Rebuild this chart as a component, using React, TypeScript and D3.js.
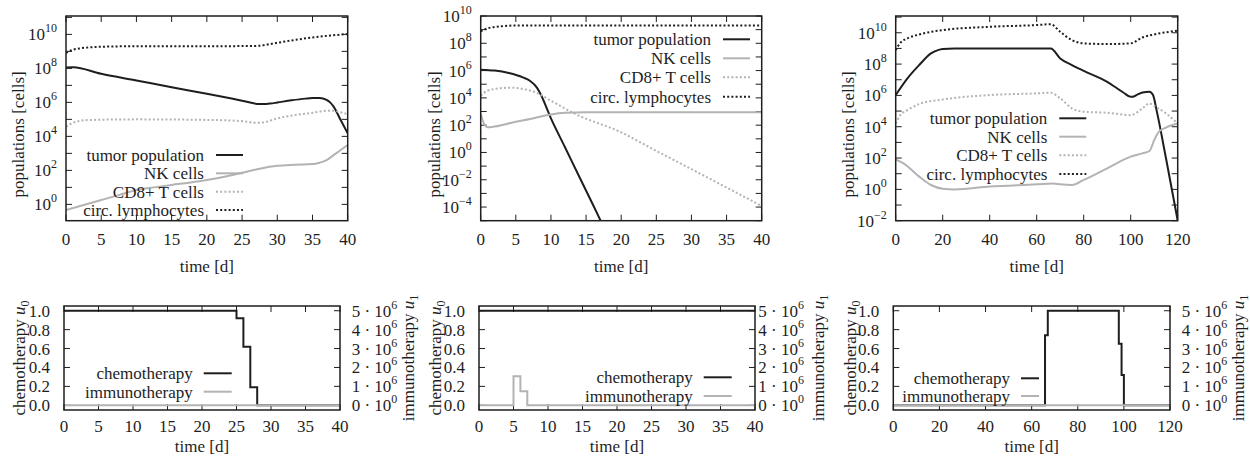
import React from "react";
import * as d3 from "d3";

type Pt = [number, number];

const FONT = "'Liberation Serif', 'DejaVu Serif', 'Times New Roman', serif";
const GRAY = "#b3b3b3";
const INK = "#1e1e1e";

// ---------- top row: populations [cells] ----------
const p1Tumor: Pt[] = [[0, 1.12e8], [1, 1.17e8], [5, 4.8e7], [10, 1.95e7], [15, 7.8e6], [20, 3.2e6], [25, 1.26e6], [27.5, 7.9e5], [28, 7.9e5], [29, 8.5e5], [30, 9.8e5], [32, 1.32e6], [34, 1.66e6], [35, 1.78e6], [36, 1.78e6], [37, 1.38e6], [37.5, 1.0e6], [38, 5.6e5], [39, 9.1e4], [40, 1.5e4]];
const p1NK: Pt[] = [[0, 0.47], [2.5, 0.93], [5, 1.8], [7.5, 3.5], [10, 6.9], [12.5, 10], [15, 14], [17.5, 19], [20, 27], [22.5, 42], [25, 72], [27.5, 126], [30, 186], [32.5, 214], [35, 234], [36, 282], [37, 398], [38, 794], [39, 1585], [40, 3090]];
const p1CD8: Pt[] = [[0, 3.7e4], [1, 6.3e4], [3, 9.1e4], [10, 1.0e5], [20, 9.3e4], [25, 7.9e4], [27, 6.3e4], [28, 6.6e4], [30, 1.15e5], [32.5, 1.78e5], [35, 2.45e5], [37, 3.2e5], [38, 3.2e5], [39, 2.6e5], [40, 2.0e5]];
const p1Circ: Pt[] = [[0, 8.3e8], [1, 1.26e9], [2, 1.5e9], [5, 1.86e9], [10, 2.0e9], [20, 2.0e9], [27, 2.1e9], [30, 3.2e9], [32.5, 4.7e9], [35, 6.6e9], [37.5, 8.5e9], [40, 1.05e10]];

const p2Tumor: Pt[] = [[0, 1.17e6], [2, 1.0e6], [4, 6.6e5], [6, 3.2e5], [7, 1.8e5], [8, 5.6e4], [8.5, 2.0e4], [10, 316], [12, 2.4], [14, 0.018], [16, 1.4e-4], [17, 1.2e-5], [18, 1e-6]];
const p2NK: Pt[] = [[0, 650], [0.5, 120], [1, 69], [2, 79], [5, 178], [7, 282], [9, 490], [10, 617], [12, 813], [15, 871], [40, 871]];
const p2CD8: Pt[] = [[0, 1.45e4], [1, 3.4e4], [3, 5.2e4], [4, 5.6e4], [6, 4.5e4], [8, 2.3e4], [10, 6.2e3], [13.5, 650], [20, 30], [25, 1.3], [30, 0.06], [35, 2.7e-3], [40, 1.2e-4]];
const p2Circ: Pt[] = [[0, 7.6e8], [1, 1.26e9], [3, 1.78e9], [5, 2.0e9], [40, 2.0e9]];

const p3Tumor: Pt[] = [[0, 1.05e6], [5, 1.23e7], [10, 8.7e7], [15, 4.8e8], [18, 7.8e8], [20, 9.1e8], [25, 1.0e9], [66, 1.0e9], [70, 2.3e8], [75, 8.7e7], [80, 3.7e7], [90, 7.4e6], [97, 1.48e6], [100, 8.1e5], [101, 8.3e5], [103, 1.17e6], [105, 1.55e6], [108, 1.7e6], [109.5, 1.05e6], [111, 1.15e5], [115, 100], [120, 0.01]];
const p3NK: Pt[] = [[0, 79], [3, 50], [10, 6.5], [15, 1.9], [20, 1.1], [25, 1.0], [40, 1.5], [60, 2.1], [67, 2.4], [70, 2.1], [75, 1.9], [80, 4], [90, 22], [100, 123], [105, 200], [108, 282], [110, 1400], [112, 4800], [115, 8900], [120, 1.6e4]];
const p3CD8: Pt[] = [[0, 1.6e4], [2, 5.5e4], [5, 1.15e5], [10, 2.8e5], [20, 5.5e5], [40, 1.05e6], [60, 1.35e6], [66, 1.48e6], [70, 6.5e5], [75, 1.5e5], [80, 9.1e4], [90, 7.8e4], [100, 5.5e4], [105, 1.5e5], [108, 3.1e5], [110, 2.1e5], [115, 7.1e4], [120, 1.6e4]];
const p3Circ: Pt[] = [[0, 7.8e8], [2, 2.3e9], [5, 4.4e9], [10, 7.8e9], [20, 1.48e10], [40, 2.4e10], [60, 3.1e10], [66, 3.5e10], [70, 1.15e10], [75, 3.4e9], [80, 2.1e9], [90, 1.9e9], [100, 2.1e9], [105, 5.0e9], [110, 7.8e9], [120, 1.35e10]];

const popLabels = ["tumor population", "NK cells", "CD8+ T cells", "circ. lymphocytes"];

// ---------- bottom row: controls ----------
const p4Chemo: Pt[] = [[0, 1], [25, 0.92], [26, 0.62], [27, 0.19], [28, 0], [40, 0]];
const p4Immuno: Pt[] = [[0, 0], [40, 0]];
const p5Chemo: Pt[] = [[0, 1], [40, 1]];
const p5Immuno: Pt[] = [[0, 0], [5, 1.53e6], [6, 0.74e6], [7, 0], [40, 0]];
const p6Chemo: Pt[] = [[0, 0], [65.8, 0.74], [67, 1], [97.8, 0.65], [99, 0.32], [100, 0], [120, 0]];
const p6Immuno: Pt[] = [[0, 0], [120, 0]];

const ctrlLabels = ["chemotherapy", "immunotherapy"];
const chemoTicks = [0, 0.2, 0.4, 0.6, 0.8, 1.0];
const immunoTicks = [0, 1, 2, 3, 4, 5]; // × 10^6

const styles = [
  { stroke: INK, dash: undefined as string | undefined },
  { stroke: GRAY, dash: undefined as string | undefined },
  { stroke: GRAY, dash: "2,2.2" },
  { stroke: INK, dash: "2,2.2" },
];

interface TopCfg {
  id: string;
  left: number; right: number; top: number; bottom: number;
  xMax: number; xStep: number;
  yDomain: [number, number];
  series: Pt[][];
  legendX: number; legendYs: number[];
  ylabelX: number;
}

const topPanels: TopCfg[] = [
  { id: "t1", left: 66, right: 347.7, top: 16, bottom: 220.7, xMax: 40, xStep: 5, yDomain: [Math.pow(10, -0.96), Math.pow(10, 11.08)], series: [p1Tumor, p1NK, p1CD8, p1Circ], legendX: 204, legendYs: [155, 173.3, 191.7, 210], ylabelX: 18.3 },
  { id: "t2", left: 480.7, right: 761.7, top: 16, bottom: 220.7, xMax: 40, xStep: 5, yDomain: [1e-5, 1e10], series: [p2Tumor, p2NK, p2CD8, p2Circ], legendX: 711, legendYs: [39.3, 58.3, 77.3, 96.7], ylabelX: 434 },
  { id: "t3", left: 895.7, right: 1177.7, top: 16, bottom: 220.7, xMax: 120, xStep: 20, yDomain: [1e-2, Math.pow(10, 11.07)], series: [p3Tumor, p3NK, p3CD8, p3Circ], legendX: 1047.3, legendYs: [118.3, 136.7, 155.3, 174], ylabelX: 848.3 },
];

interface BotCfg {
  id: string;
  left: number; right: number;
  xMax: number; xStep: number;
  chemo: Pt[]; immuno: Pt[];
  legendX: number; legendYs: number[]; sampleLen: number;
  ylabelX: number; ylabelRX: number; rightLabelX: number;
}

const botPanels: BotCfg[] = [
  { id: "b1", left: 64, right: 340, xMax: 40, xStep: 5, chemo: p4Chemo, immuno: p4Immuno, legendX: 192.7, legendYs: [373.3, 391.7], sampleLen: 28, ylabelX: 19, ylabelRX: 408, rightLabelX: 351.7 },
  { id: "b2", left: 479, right: 755, xMax: 40, xStep: 5, chemo: p5Chemo, immuno: p5Immuno, legendX: 692.7, legendYs: [377.3, 396], sampleLen: 28, ylabelX: 435, ylabelRX: 818, rightLabelX: 758.3 },
  { id: "b3", left: 893.3, right: 1170, xMax: 120, xStep: 20, chemo: p6Chemo, immuno: p6Immuno, legendX: 1010, legendYs: [378.3, 396], sampleLen: 18, ylabelX: 850, ylabelRX: 1238, rightLabelX: 1181.7 },
];

const FS = 17;
const SUP = 12;
const TICK = 6;
const TXT: React.CSSProperties = { fontFamily: FONT };

function TopPanel({ c }: { c: TopCfg }) {
  const x = d3.scaleLinear().domain([0, c.xMax]).range([c.left, c.right]);
  const y = d3.scaleLog().domain(c.yDomain).range([c.bottom, c.top]);
  const line = d3.line<Pt>().x((d) => x(d[0])).y((d) => y(d[1])).curve(d3.curveMonotoneX);
  const xt = d3.range(0, c.xMax + 0.001, c.xStep);
  const eLo = Math.ceil(Math.log10(c.yDomain[0]) - 1e-6);
  const eHi = Math.floor(Math.log10(c.yDomain[1]) + 1e-6);
  const exps = d3.range(eLo, eHi + 1);
  const cx = (c.left + c.right) / 2;
  const cy = (c.top + c.bottom) / 2;
  return (
    <g>
      <defs>
        <clipPath id={"clip" + c.id}>
          <rect x={c.left} y={c.top} width={c.right - c.left} height={c.bottom - c.top} />
        </clipPath>
      </defs>
      {xt.map((t) => (
        <g key={"x" + t}>
          <line x1={x(t)} x2={x(t)} y1={c.bottom} y2={c.bottom - TICK} stroke={INK} strokeWidth={1} />
          <line x1={x(t)} x2={x(t)} y1={c.top} y2={c.top + TICK} stroke={INK} strokeWidth={1} />
          <text x={x(t)} y={245} textAnchor="middle" fontSize={FS} fill={INK} style={TXT}>{t}</text>
        </g>
      ))}
      {exps.map((e) => {
        const yy = y(Math.pow(10, e));
        return (
          <g key={"y" + e}>
            <line x1={c.left} x2={c.left + TICK} y1={yy} y2={yy} stroke={INK} strokeWidth={1} />
            <line x1={c.right} x2={c.right - TICK} y1={yy} y2={yy} stroke={INK} strokeWidth={1} />
            {e % 2 === 0 && (
              <text x={c.left - 9} y={yy + 6} textAnchor="end" fontSize={FS} fill={INK} style={TXT}>
                <tspan>10</tspan>
                <tspan dy={-8} fontSize={SUP}>{e < 0 ? "\u2212" + Math.abs(e) : String(e)}</tspan>
              </text>
            )}
          </g>
        );
      })}
      <g clipPath={`url(#clip${c.id})`}>
        {c.series.map((s, i) => (
          <path key={i} d={line(s) || ""} fill="none" stroke={styles[i].stroke} strokeWidth={2} strokeDasharray={styles[i].dash} />
        ))}
      </g>
      {popLabels.map((lab, i) => (
        <g key={lab}>
          <text x={c.legendX} y={c.legendYs[i] + 6} textAnchor="end" fontSize={FS} fill={INK} style={TXT}>{lab}</text>
          <line x1={c.legendX + 12} x2={c.legendX + 39} y1={c.legendYs[i]} y2={c.legendYs[i]} stroke={styles[i].stroke} strokeWidth={2} strokeDasharray={styles[i].dash} />
        </g>
      ))}
      <rect x={c.left} y={c.top} width={c.right - c.left} height={c.bottom - c.top} fill="none" stroke={INK} strokeWidth={1.5} />
      <text x={cx} y={272} textAnchor="middle" fontSize={FS} fill={INK} style={TXT}>time [d]</text>
      <text transform={`translate(${c.ylabelX + 6},${cy + 16}) rotate(-90)`} textAnchor="middle" fontSize={FS} fill={INK} style={TXT}>populations [cells]</text>
    </g>
  );
}

function BotPanel({ c }: { c: BotCfg }) {
  const top = 306, bottom = 410;
  const x = d3.scaleLinear().domain([0, c.xMax]).range([c.left, c.right]);
  const y0 = d3.scaleLinear().domain([-0.05, 1.05]).range([bottom, top]);
  const y1 = d3.scaleLinear().domain([-0.25e6, 5.25e6]).range([bottom, top]);
  const l0 = d3.line<Pt>().x((d) => x(d[0])).y((d) => y0(d[1])).curve(d3.curveStepAfter);
  const l1 = d3.line<Pt>().x((d) => x(d[0])).y((d) => y1(d[1])).curve(d3.curveStepAfter);
  const xt = d3.range(0, c.xMax + 0.001, c.xStep);
  const cx = (c.left + c.right) / 2;
  const cy = (top + bottom) / 2;
  return (
    <g>
      {xt.map((t) => (
        <g key={"x" + t}>
          <line x1={x(t)} x2={x(t)} y1={bottom} y2={bottom - TICK} stroke={INK} strokeWidth={1} />
          <line x1={x(t)} x2={x(t)} y1={top} y2={top + TICK} stroke={INK} strokeWidth={1} />
          <text x={x(t)} y={432} textAnchor="middle" fontSize={FS} fill={INK} style={TXT}>{t}</text>
        </g>
      ))}
      {chemoTicks.map((v) => (
        <g key={"l" + v}>
          <line x1={c.left} x2={c.left + TICK} y1={y0(v)} y2={y0(v)} stroke={INK} strokeWidth={1} />
          <text x={c.left - 14} y={y0(v) + 6} textAnchor="end" fontSize={FS} fill={INK} style={TXT}>{v.toFixed(1)}</text>
        </g>
      ))}
      {immunoTicks.map((v) => (
        <g key={"r" + v}>
          <line x1={c.right} x2={c.right - TICK} y1={y1(v * 1e6)} y2={y1(v * 1e6)} stroke={INK} strokeWidth={1} />
          <text x={c.rightLabelX} y={y1(v * 1e6) + 6} textAnchor="start" fontSize={FS} fill={INK} style={TXT}>
            <tspan>{`${v} \u00b7 10`}</tspan>
            <tspan dy={-8} fontSize={SUP}>{v === 0 ? "0" : "6"}</tspan>
          </text>
        </g>
      ))}
      <path d={l0(c.chemo) || ""} fill="none" stroke={INK} strokeWidth={2} />
      <path d={l1(c.immuno) || ""} fill="none" stroke={GRAY} strokeWidth={2} />
      {ctrlLabels.map((lab, i) => (
        <g key={lab}>
          <text x={c.legendX} y={c.legendYs[i] + 6} textAnchor="end" fontSize={FS} fill={INK} style={TXT}>{lab}</text>
          <line x1={c.legendX + 11} x2={c.legendX + 11 + c.sampleLen} y1={c.legendYs[i]} y2={c.legendYs[i]} stroke={i === 0 ? INK : GRAY} strokeWidth={2} />
        </g>
      ))}
      <rect x={c.left} y={top} width={c.right - c.left} height={bottom - top} fill="none" stroke={INK} strokeWidth={1.5} />
      <text x={cx} y={452} textAnchor="middle" fontSize={FS} fill={INK} style={TXT}>time [d]</text>
      <text transform={`translate(${c.ylabelX + 6},${cy}) rotate(-90)`} textAnchor="middle" fontSize={FS} fill={INK} style={TXT}>
        <tspan>chemotherapy </tspan>
        <tspan fontStyle="italic">u</tspan>
        <tspan dy={4} fontSize={SUP}>0</tspan>
      </text>
      <text transform={`translate(${c.ylabelRX + 6},${cy}) rotate(-90)`} textAnchor="middle" fontSize={FS} fill={INK} style={TXT}>
        <tspan>immunotherapy </tspan>
        <tspan fontStyle="italic">u</tspan>
        <tspan dy={4} fontSize={SUP}>1</tspan>
      </text>
    </g>
  );
}

export default function App() {
  return (
    <svg width={1250} height={469} style={{ position: "absolute", left: 0, top: 0, background: "#fff", fontFamily: FONT }}>
      <rect x={0} y={0} width={1250} height={469} fill="#fff" />
      {topPanels.map((c) => <TopPanel key={c.id} c={c} />)}
      {botPanels.map((c) => <BotPanel key={c.id} c={c} />)}
    </svg>
  );
}
